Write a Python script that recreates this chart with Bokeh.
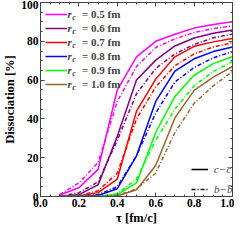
import math
from bokeh.plotting import figure
from bokeh.models import (Range1d, LinearAxis, SingleIntervalTicker, NumeralTickFormatter,
                          Legend, LegendItem, Label)
from bokeh.embed import file_html
from bokeh.resources import INLINE

# ---------------- data ----------------
tau = [0.1, 0.2, 0.3, 0.4, 0.5, 0.6, 0.7, 0.8, 0.9, 1.0]
radii = ["0.5", "0.6", "0.7", "0.8", "0.9", "1.0"]

cc_05 = [0.8, 4.5, 14.0, 55.0, 72.0, 80.0, 83.6, 86.8, 88.7, 90.1]
bb_05 = [1.0, 7.0, 17.5, 49.0, 67.0, 76.8, 81.3, 84.5, 86.5, 88.0]
cc_06 = [0.0, 1.0, 6.0, 31.0, 60.0, 70.3, 77.6, 81.7, 84.2, 85.8]
bb_06 = [0.0, 2.0, 7.5, 29.0, 53.0, 66.0, 73.5, 78.4, 81.8, 83.7]
cc_07 = [0.0, 0.3, 2.0, 9.0, 44.0, 60.5, 72.0, 77.4, 79.7, 81.4]
bb_07 = [0.0, 0.5, 3.0, 12.0, 40.0, 56.5, 67.4, 73.5, 77.1, 79.2]
cc_08 = [0.0, 0.0, 0.5, 4.0, 21.0, 49.0, 64.6, 71.0, 74.7, 77.1]
bb_08 = [0.0, 0.0, 1.0, 5.0, 21.0, 43.0, 59.0, 66.5, 71.5, 74.7]
cc_09 = [0.0, 0.0, 0.0, 1.0, 7.0, 33.0, 51.6, 62.5, 68.5, 72.0]
bb_09 = [0.0, 0.0, 0.0, 1.5, 9.0, 29.0, 45.0, 57.0, 64.5, 69.5]
cc_10 = [0.0, 0.0, 0.0, 0.3, 3.5, 16.0, 40.5, 54.7, 61.5, 67.0]
bb_10 = [0.0, 0.0, 0.0, 0.5, 4.0, 12.0, 33.0, 48.0, 57.0, 64.5]

cc_series = [cc_05, cc_06, cc_07, cc_08, cc_09, cc_10]
bb_series = [bb_05, bb_06, bb_07, bb_08, bb_09, bb_10]

x_ticks_interval = 0.2
y_ticks_interval = 20

# ---------------- style ----------------
colors = ["#ff00ff", "#800080", "#ff0000", "#0000ff", "#00ff00", "#996633"]
SERIF = "Liberation Serif"
AXC = "#444444"

W, H = 234, 227
MB_L, MB_R, MB_T, MB_B = 33, 2, 2, 30
FH = H - MB_T - MB_B        # frame height in px
FW = W - MB_L - MB_R        # frame width in px

p = figure(width=W, height=H, output_backend="svg", toolbar_location=None,
           x_range=Range1d(0, 1), y_range=Range1d(0, 100),
           min_border_left=MB_L, min_border_right=MB_R,
           min_border_top=MB_T, min_border_bottom=MB_B,
           x_axis_location=None, y_axis_location=None)
p.xgrid.visible = False
p.ygrid.visible = False
p.outline_line_color = AXC
p.background_fill_color = "white"
p.border_fill_color = "white"
# an off-screen range used only for the legend key lines
p.extra_y_ranges = {"key": Range1d(1000, 2000)}


def style_axis(ax, labels=True):
    ax.axis_line_color = AXC
    ax.major_tick_line_color = AXC
    ax.minor_tick_line_color = AXC
    ax.major_tick_in = 4
    ax.major_tick_out = 0
    ax.minor_tick_in = 2
    ax.minor_tick_out = 0
    ax.major_label_text_font = SERIF
    ax.major_label_text_font_style = "bold"
    ax.axis_label_text_font = SERIF
    ax.axis_label_text_font_style = "bold"
    ax.axis_label_text_color = "black"
    if labels:
        ax.major_label_text_color = "black"
        ax.major_label_text_font_size = "11.5px"
        ax.major_label_standoff = 2
        ax.axis_label_standoff = 1
    else:
        ax.major_label_text_color = None
        ax.major_label_text_font_size = "0px"
        ax.major_label_standoff = 0


for loc in ["below", "above"]:
    ax = LinearAxis(ticker=SingleIntervalTicker(interval=x_ticks_interval, num_minor_ticks=4),
                    formatter=NumeralTickFormatter(format="0.0"))
    style_axis(ax, labels=(loc == "below"))
    if loc == "below":
        ax.axis_label = "\u03c4 [fm/c]"
        ax.axis_label_text_font_size = "12.5px"
    p.add_layout(ax, loc)
for loc in ["left", "right"]:
    ax = LinearAxis(ticker=SingleIntervalTicker(interval=y_ticks_interval, num_minor_ticks=4),
                    formatter=NumeralTickFormatter(format="0"))
    style_axis(ax, labels=(loc == "left"))
    if loc == "left":
        ax.axis_label = "Dissociation [%]"
        ax.axis_label_text_font_size = "12.5px"
    p.add_layout(ax, loc)

DASH = "4 2 1 2"
solid_renderers = []
for c, cc, bb in zip(colors, cc_series, bb_series):
    p.line(tau, bb, line_color=c, line_width=1.5, line_dash=DASH)
    r = p.line(tau, cc, line_color=c, line_width=1.5)
    solid_renderers.append(r)

# legend 1: radii
items = [LegendItem(label="= %s fm" % rad, renderers=[r]) for rad, r in zip(radii, solid_renderers)]
leg1 = Legend(items=items, location="top_left", margin=0, padding=5, spacing=0,
              glyph_height=14, label_height=14, glyph_width=22, label_standoff=15,
              label_text_font=SERIF, label_text_font_style="bold", label_text_font_size="11px",
              border_line_alpha=0, background_fill_alpha=0)
p.add_layout(leg1)

for i, rad in enumerate(radii):
    yc = 100 * (1 - (5 + 7 + 14 * i) / FH)
    ysub = 100 * (1 - (5 + 7 + 14 * i + 3) / FH)
    p.add_layout(Label(x=(28.0) / FW, y=yc, text="r", text_font=SERIF,
                       text_font_style="bold italic", text_font_size="11px",
                       text_baseline="middle", text_align="left"))
    p.add_layout(Label(x=(33.0) / FW, y=ysub, text="c", text_font=SERIF,
                       text_font_style="bold italic", text_font_size="8px",
                       text_baseline="middle", text_align="left"))

# legend 2: quark type (key lines live on an off-screen range)
rc = p.line(tau, cc_05, line_color="black", line_width=1.5, y_range_name="key")
rb = p.line(tau, bb_05, line_color="black", line_width=1.5, line_dash=DASH, y_range_name="key")
leg2 = Legend(items=[LegendItem(label="c\u2212c\u0305", renderers=[rc]),
                     LegendItem(label="b\u2212b\u0305", renderers=[rb])],
              location=(FW - 49, -4), margin=0, padding=1, spacing=0,
              glyph_height=20, label_height=20, glyph_width=17, label_standoff=6,
              label_text_font=SERIF, label_text_font_style="italic", label_text_font_size="11px",
              border_line_alpha=0, background_fill_alpha=0)
p.add_layout(leg2)

open("out.html", "w").write(file_html(p, INLINE))
